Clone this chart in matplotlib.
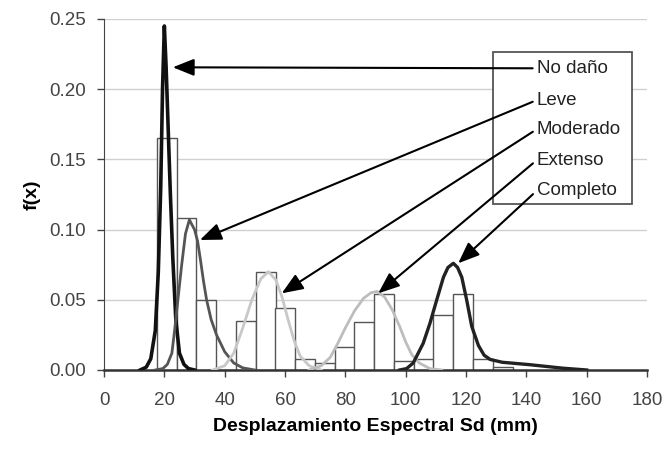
import numpy as np
import matplotlib
matplotlib.use("Agg")
import matplotlib.pyplot as plt
from matplotlib.patches import Rectangle
from matplotlib.ticker import FormatStrFormatter

plt.rcParams['font.family'] = ['Liberation Sans', 'DejaVu Sans']

# histogram (bin left edges in mm, relative frequency)
bin_left = [17.5, 24.1, 30.6, 37.2, 43.7, 50.3, 56.8, 63.4, 69.9, 76.5,
            83.0, 89.6, 96.1, 102.7, 109.2, 115.8, 122.3, 128.9]
bin_height = [0.165, 0.108, 0.050, 0.0, 0.035, 0.070, 0.044, 0.008, 0.0047, 0.0166,
              0.034, 0.054, 0.0064, 0.008, 0.039, 0.054, 0.0076, 0.002]
bin_width = 6.55

# damage state curves
no_dano_x = [12, 14, 15.5, 17, 18, 18.8, 19.4, 20, 20.6, 21.3, 22, 22.8, 23.8, 25, 26.5, 28, 30]
no_dano_y = [0, 0.002, 0.008, 0.028, 0.07, 0.13, 0.2, 0.245, 0.215, 0.17, 0.125, 0.08,
             0.036, 0.012, 0.004, 0.001, 0]

leve_x = [17, 19.5, 21, 22.5, 23.5, 24.5, 25.7, 27, 28.3, 30, 31, 32, 33, 34, 35.5,
          37.3, 40, 43, 46, 50]
leve_y = [0, 0.001, 0.004, 0.012, 0.03, 0.05, 0.074, 0.097, 0.107, 0.1, 0.092, 0.078,
          0.063, 0.05, 0.036, 0.025, 0.013, 0.005, 0.0015, 0]

moderado_x = [36, 40, 43, 46, 49, 52, 54.5, 57, 59, 61, 63, 65, 68, 72]
moderado_y = [0, 0.003, 0.012, 0.03, 0.05, 0.065, 0.07, 0.064, 0.052, 0.036, 0.021,
              0.01, 0.003, 0]

extenso_x = [68, 72, 75, 77.5, 80, 83, 86, 88.5, 90.5, 93, 95.5, 98, 100, 102, 104.5, 108, 112]
extenso_y = [0, 0.003, 0.009, 0.019, 0.03, 0.042, 0.051, 0.055, 0.056, 0.052, 0.043,
             0.031, 0.02, 0.011, 0.005, 0.001, 0]

completo_x = [98, 100.3, 102.5, 105.8, 108, 110.3, 112.5, 114, 115.8, 117.2, 118.6, 120.2,
              121.9, 124.1, 126, 128, 132, 141, 152, 160]
completo_y = [0, 0.001, 0.005, 0.019, 0.033, 0.05, 0.066, 0.073, 0.076, 0.073, 0.066, 0.05,
              0.031, 0.0175, 0.0105, 0.0075, 0.0055, 0.0038, 0.0013, 0]

labels = ['No daño', 'Leve', 'Moderado', 'Extenso', 'Completo']
# arrow tips (data) for each label
tip_x = [22.8, 31.8, 58.9, 90.9, 117.4]
tip_y = [0.2156, 0.0926, 0.0546, 0.0546, 0.076]

fig = plt.figure(figsize=(6.65, 4.5), dpi=100)
ax = fig.add_axes([0.1564, 0.1778, 0.8166, 0.78])

ax.bar(bin_left, bin_height, width=bin_width, align='edge', facecolor='white',
       edgecolor='#555555', linewidth=1.0, zorder=2)

ax.plot(no_dano_x, no_dano_y, color='#111111', lw=2.6, zorder=3)
ax.plot(leve_x, leve_y, color='#555555', lw=2.0, zorder=3)
ax.plot(moderado_x, moderado_y, color='#c8c8c8', lw=2.0, zorder=3)
ax.plot(extenso_x, extenso_y, color='#bdbdbd', lw=2.0, zorder=3)
ax.plot(completo_x, completo_y, color='#222222', lw=2.4, zorder=3)

ax.set_xlim(0, 180)
ax.set_ylim(0, 0.25)
ax.set_xticks(np.arange(0, 181, 20))
ax.set_yticks(np.arange(0, 0.251, 0.05))
ax.yaxis.set_major_formatter(FormatStrFormatter('%.2f'))
ax.yaxis.grid(True, color='#d0d0d0', lw=1.0, zorder=0)
ax.set_axisbelow(True)
for s in ['top', 'right']:
    ax.spines[s].set_visible(False)
ax.spines['left'].set_color('#444444')
ax.spines['bottom'].set_color('#333333')
ax.spines['bottom'].set_linewidth(1.8)
ax.tick_params(axis='both', labelsize=13.5, colors='#444444', length=5, width=1.0,
               direction='out')
ax.tick_params(axis='y', pad=8)
ax.tick_params(axis='x', pad=11)

ax.set_xlabel('Desplazamiento Espectral Sd (mm)', fontsize=14, fontweight='bold', labelpad=6)
ax.set_ylabel('f(x)', fontsize=14, fontweight='bold', labelpad=6)

# label box
ax.add_patch(Rectangle((0.717, 0.473), 0.256, 0.434, transform=ax.transAxes,
                       facecolor='white', edgecolor='#555555', lw=1.3, zorder=4))

label_y = [0.8595, 0.769, 0.686, 0.598, 0.511]
for lab, ty, tx, tyy in zip(labels, label_y, tip_x, tip_y):
    ax.annotate(lab, xy=(tx, tyy), xycoords='data', xytext=(0.797, ty),
                textcoords='axes fraction', ha='left', va='center', fontsize=13.5,
                color='#222222', zorder=5,
                arrowprops=dict(arrowstyle='-|>,head_length=0.5,head_width=0.2',
                                color='black', lw=1.5, mutation_scale=26,
                                relpos=(0, 0.5), shrinkA=1, shrinkB=0))

fig.savefig('out.png', dpi=100)
